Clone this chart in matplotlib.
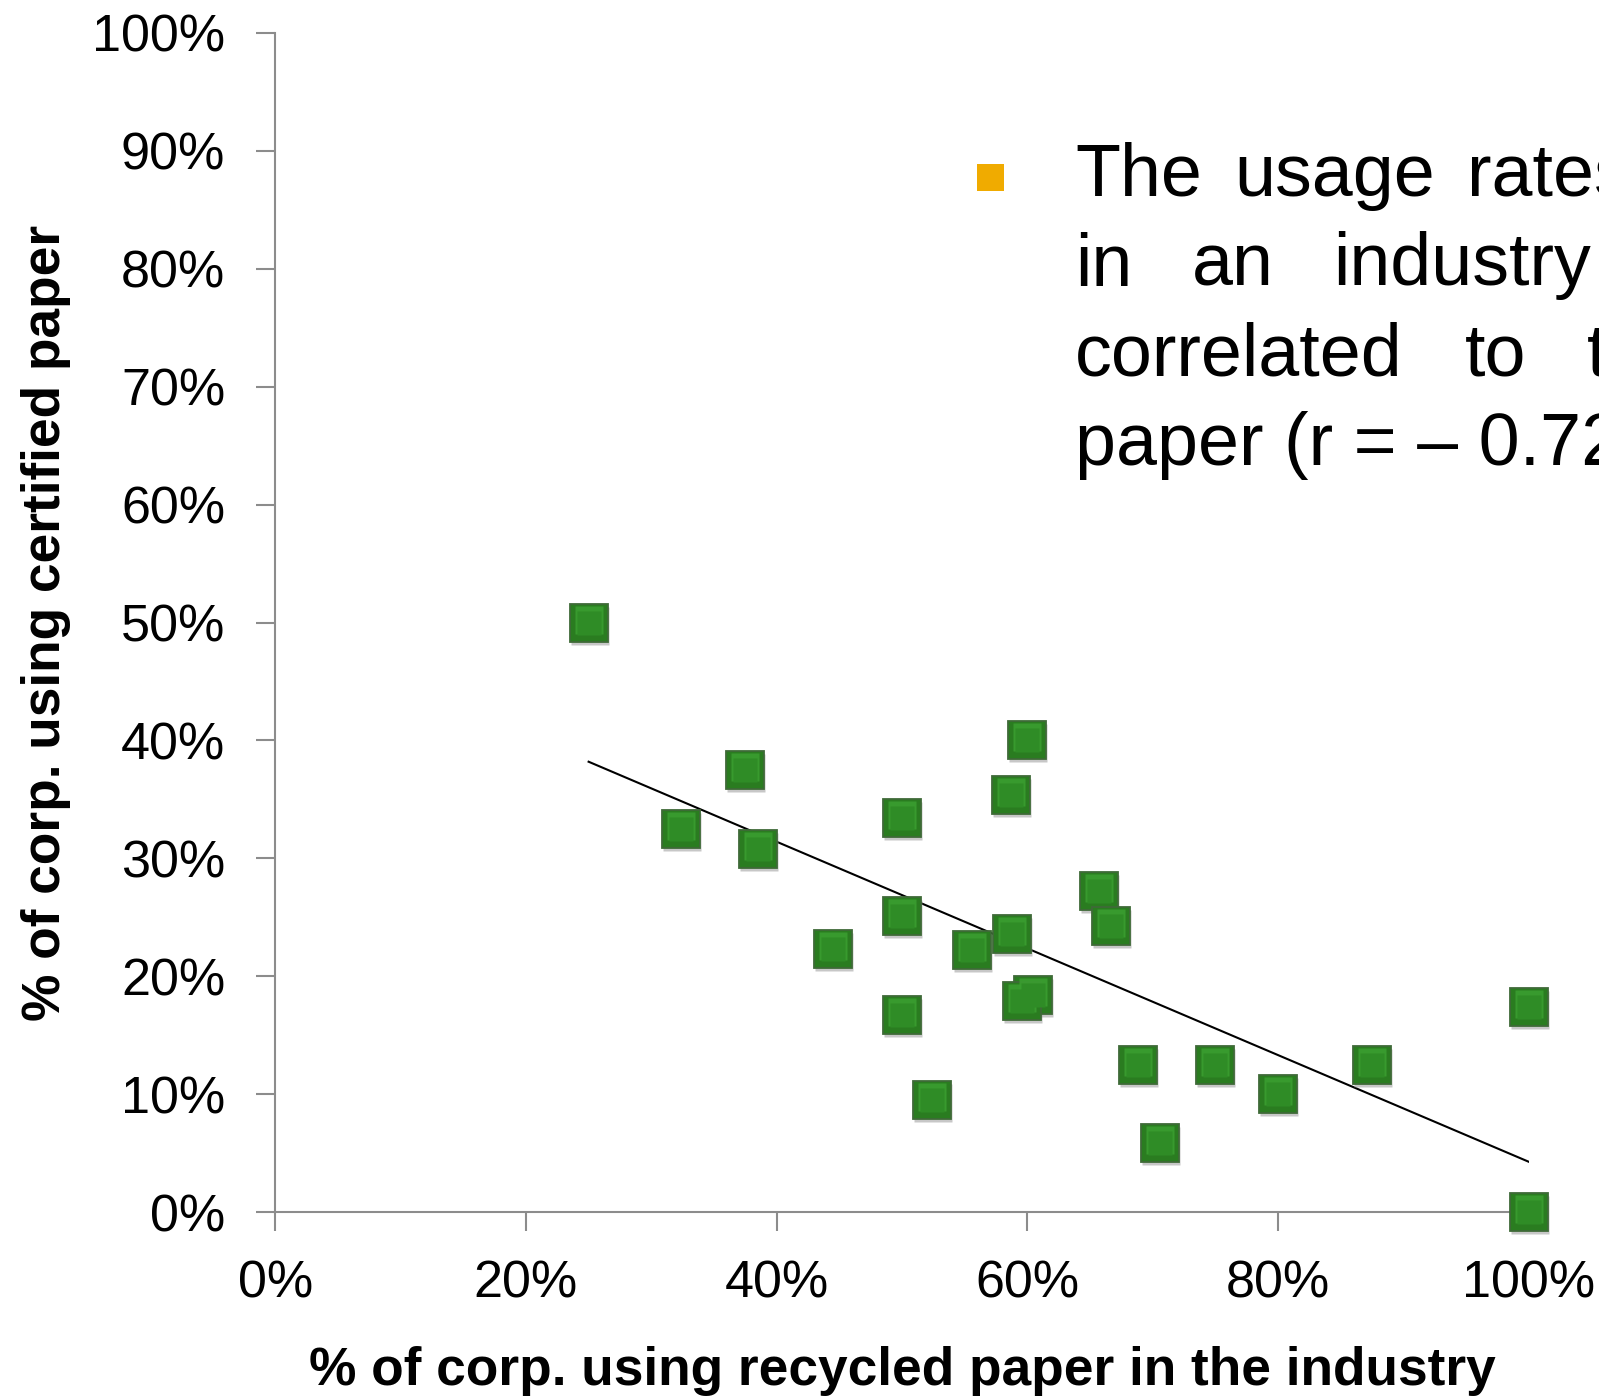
import matplotlib
matplotlib.use("Agg")
import matplotlib.pyplot as plt
import matplotlib.transforms as mtransforms
from matplotlib.patches import Rectangle

plt.rcParams['font.family'] = ['Liberation Sans', 'DejaVu Sans']

# data (percent)
recycled = [25.0, 37.5, 32.4, 38.5, 44.5, 50.0, 50.0, 50.0, 52.4, 55.6, 58.7, 58.8,
            60.0, 60.5, 59.6, 65.7, 66.7, 68.8, 70.6, 75.0, 80.0, 87.5, 100.0, 100.0]
certified = [50.0, 37.5, 32.5, 30.8, 22.3, 33.4, 25.1, 16.7, 9.5, 22.2, 35.4, 23.6,
             40.0, 18.4, 17.9, 27.2, 24.3, 12.5, 5.9, 12.5, 10.0, 12.5, 17.4, 0.0]
trend_x = [25.0, 100.0]
trend_y = [38.2, 4.3]
xticks = [0, 20, 40, 60, 80, 100]
yticks = [0, 10, 20, 30, 40, 50, 60, 70, 80, 90, 100]
xlabel = "% of corp. using recycled paper in the industry"
ylabel = "% of corp. using certified paper"
note_lines = [["The", "usage", "rates"],
              ["in", "an", "industry"],
              ["correlated", "to", "the"],
              ["paper (r = \u2013 0.72)"]]

W, H = 1599, 1399
fig = plt.figure(figsize=(W / 100, H / 100), dpi=100)
ax = fig.add_axes([275.3 / W, 1 - 1212.4 / H, (1528.5 - 275.3) / W, (1212.4 - 32.6) / H])

ax.set_xlim(0, 100)
ax.set_ylim(0, 100)

ax.plot(trend_x, trend_y, color='black', lw=1.5, zorder=2)

shadow_tr = mtransforms.offset_copy(ax.transData, fig=fig, x=1.0, y=-3.0, units='dots')
ax.plot(recycled, certified, 's', ms=27.5, color='#9a9a9a', alpha=0.55, mec='none',
        transform=shadow_tr, clip_on=False, zorder=3)
hi_tr = mtransforms.offset_copy(ax.transData, fig=fig, x=0.0, y=3.0, units='dots')
for xv, yv in zip(recycled, certified):
    ax.plot([xv], [yv], 's', ms=27.5, mfc='#2a7c20', mec='#3f6a38', mew=1.3,
            clip_on=False, zorder=4)
    ax.plot([xv], [yv], 's', ms=20, mfc='#3a9e30', mec='none', alpha=0.9,
            transform=hi_tr, clip_on=False, zorder=5)
    ax.plot([xv], [yv], 's', ms=17, mfc='#2f8c26', mec='none', clip_on=False, zorder=6)

ax.set_xticks(xticks)
ax.set_xticklabels([f"{v}%" for v in xticks])
ax.set_yticks(yticks)
ax.set_yticklabels([f"{v}%" for v in yticks])

for s in ['top', 'right']:
    ax.spines[s].set_visible(False)
for s in ['left', 'bottom']:
    ax.spines[s].set_color('#8c8c8c')
    ax.spines[s].set_linewidth(1.5)
ax.tick_params(axis='both', direction='out', length=14, width=1.5, color='#8c8c8c',
               labelsize=37.5, labelcolor='black')
ax.tick_params(axis='y', pad=22)
ax.tick_params(axis='x', pad=20)

fig.text((275.3 + 1528.5) / 2 / W, 1 - 1371.5 / H, xlabel, ha='center', va='center',
         fontsize=38.3, fontweight='bold')
fig.text(46 / W, 1 - 622.5 / H, ylabel, ha='center', va='center', rotation=90,
         fontsize=38.3, fontweight='bold')

# bullet and note
bs = 27
fig.add_artist(Rectangle(((990 - bs / 2) / W, 1 - (177.4 + bs / 2) / H), bs / W, bs / H,
                         transform=fig.transFigure, color='#f0ab00', lw=0))
baselines = [195.8, 285.5, 375.2, 465.0]
word_x = [[1075, 1234, 1467], [1075, 1192, 1333], [1075, 1465, 1587], [1075]]
for words, xs, b in zip(note_lines, word_x, baselines):
    for w, xv in zip(words, xs):
        fig.text(xv / W, 1 - b / H, w, ha='left', va='baseline', fontsize=53)

fig.savefig("out.png", dpi=100)
